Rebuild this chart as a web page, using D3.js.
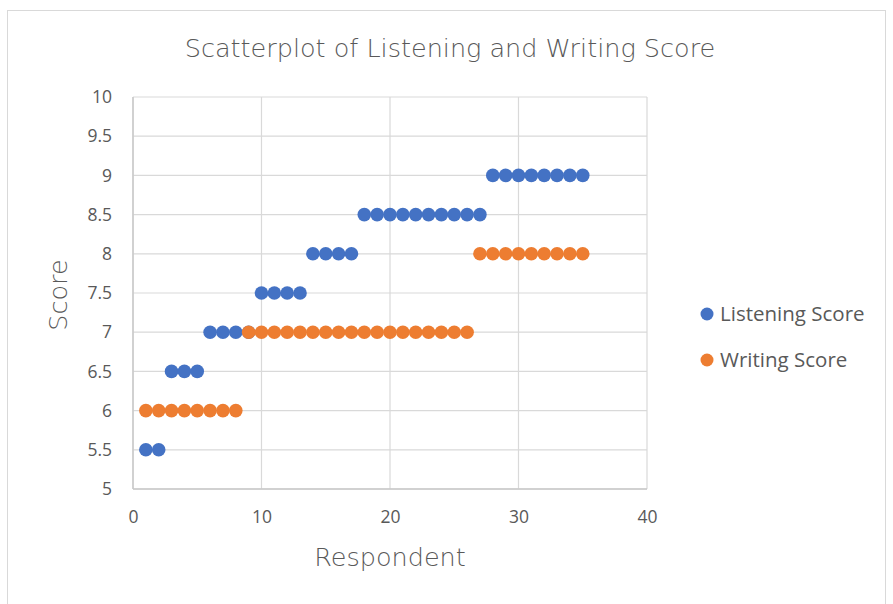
<!doctype html>
<html lang="en">
<head>
  <meta charset="utf-8">
  <title>Scatterplot of Listening and Writing Score</title>
  <style>
    body { margin: 0; background: #fff; }
    svg { display: block; }
    text { fill: #595959; }
    .tick text { font-family: "Open Sans", sans-serif; font-size: 17.5px; }
    .title, .axis-title { font-family: "DejaVu Sans", sans-serif; font-weight: 200; }
  </style>
</head>
<body>
  <script src="https://cdn.jsdelivr.net/npm/d3@7"></script>
  <script>
(function() {

// respondent number on x, score on y
var respondents = d3.range(1, 36);
var listening = [5.5, 5.5, 6.5, 6.5, 6.5, 7, 7, 7, 7, 7.5, 7.5, 7.5, 7.5,
                 8, 8, 8, 8, 8.5, 8.5, 8.5, 8.5, 8.5, 8.5, 8.5, 8.5, 8.5, 8.5,
                 9, 9, 9, 9, 9, 9, 9, 9];
var writing = [6, 6, 6, 6, 6, 6, 6, 6, 7, 7, 7, 7, 7, 7, 7, 7, 7, 7, 7, 7,
               7, 7, 7, 7, 7, 7, 8, 8, 8, 8, 8, 8, 8, 8, 8];
var seriesNames = ["Listening Score", "Writing Score"];
var seriesColors = ["#4472C4", "#ED7D31"];
var xTicks = [0, 10, 20, 30, 40];
var yTicks = [5, 5.5, 6, 6.5, 7, 7.5, 8, 8.5, 9, 9.5, 10];

var W = 893, H = 604;
var left = 133, right = 647, top = 97, bottom = 489;

var svg = d3.select("body").append("svg")
    .attr("width", W)
    .attr("height", H);

// chart frame
svg.append("rect")
    .attr("x", 7.5).attr("y", 10.5)
    .attr("width", 878).attr("height", 620)
    .attr("fill", "#fff")
    .attr("stroke", "#d9d9d9");

var x = d3.scaleLinear().domain([0, 40]).range([left, right]);
var y = d3.scaleLinear().domain([5, 10]).range([bottom, top]);

// gridlines
svg.append("g").selectAll("line").data(yTicks).enter().append("line")
    .attr("x1", left).attr("x2", right)
    .attr("y1", function(d) { return y(d); })
    .attr("y2", function(d) { return y(d); })
    .attr("stroke", "#d9d9d9").attr("stroke-width", 1.2);

svg.append("g").selectAll("line").data(xTicks).enter().append("line")
    .attr("y1", top).attr("y2", bottom)
    .attr("x1", function(d) { return x(d); })
    .attr("x2", function(d) { return x(d); })
    .attr("stroke", "#d9d9d9").attr("stroke-width", 1.2);

// axes lines a bit darker
svg.append("line").attr("x1", left).attr("x2", left).attr("y1", top).attr("y2", bottom)
    .attr("stroke", "#c8c8c8").attr("stroke-width", 1.4);
svg.append("line").attr("x1", left).attr("x2", right).attr("y1", bottom).attr("y2", bottom)
    .attr("stroke", "#c8c8c8").attr("stroke-width", 1.4);

var fmt = function(d) { return String(d); };

var xAxis = svg.append("g")
    .attr("transform", "translate(0," + bottom + ")")
    .call(d3.axisBottom(x).tickValues(xTicks).tickFormat(fmt).tickSize(0).tickPadding(22));
xAxis.select(".domain").remove();

var yAxis = svg.append("g")
    .attr("transform", "translate(" + left + ",0)")
    .call(d3.axisLeft(y).tickValues(yTicks).tickFormat(fmt).tickSize(0).tickPadding(21));
yAxis.select(".domain").remove();

svg.selectAll(".tick text").attr("fill", "#595959");

// points
var series = [listening, writing];
series.forEach(function(vals, s) {
  svg.append("g").selectAll("circle").data(respondents).enter().append("circle")
      .attr("cx", function(d) { return x(d); })
      .attr("cy", function(d, i) { return y(vals[i]); })
      .attr("r", 6.8)
      .attr("fill", seriesColors[s]);
});

// titles
svg.append("text").attr("class", "title")
    .attr("x", 450).attr("y", 57)
    .attr("text-anchor", "middle")
    .attr("font-size", 25.5)
    .text("Scatterplot of Listening and Writing Score");

svg.append("text").attr("class", "axis-title")
    .attr("x", 390).attr("y", 566)
    .attr("text-anchor", "middle")
    .attr("font-size", 25.5)
    .text("Respondent");

svg.append("text").attr("class", "axis-title")
    .attr("transform", "translate(67,295) rotate(-90)")
    .attr("text-anchor", "middle")
    .attr("font-size", 25.5)
    .text("Score");

// legend
var legend = svg.append("g").selectAll("g").data(seriesNames).enter().append("g")
    .attr("transform", function(d, i) { return "translate(707," + (314 + i * 46) + ")"; });
legend.append("circle").attr("r", 6.5)
    .attr("fill", function(d, i) { return seriesColors[i]; });
legend.append("text")
    .attr("x", 13).attr("y", 7)
    .attr("font-family", "Open Sans, sans-serif")
    .attr("font-size", 20.5)
    .text(function(d) { return d; });

})();
  </script>
</body>
</html>
